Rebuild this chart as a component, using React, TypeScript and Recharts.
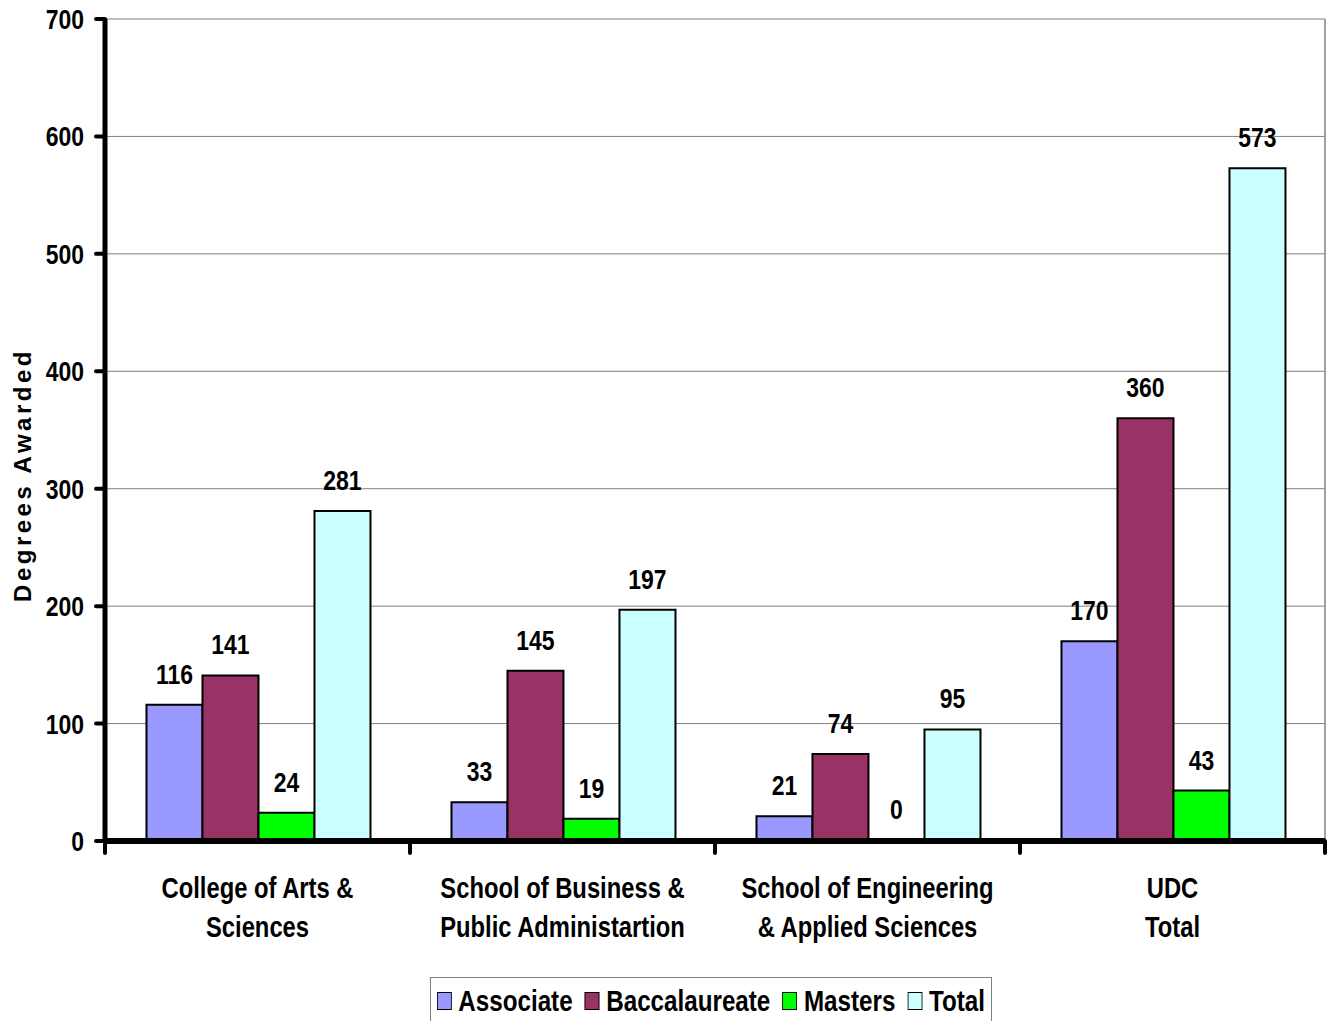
import {
  Bar,
  BarChart,
  CartesianGrid,
  LabelList,
  Legend,
  ReferenceLine,
  XAxis,
  YAxis,
} from 'recharts';

const categories = [
  'College of Arts &\nSciences',
  'School of Business &\nPublic Administartion',
  'School of Engineering\n& Applied Sciences',
  'UDC\nTotal',
];
const associate = [116, 33, 21, 170];
const baccalaureate = [141, 145, 74, 360];
const masters = [24, 19, 0, 43];
const total = [281, 197, 95, 573];
const yTicks = [0, 100, 200, 300, 400, 500, 600, 700];
const groupEdges = [0, 1, 2, 3, 4];

const data = categories.map((name, i) => ({
  name,
  associate: associate[i],
  baccalaureate: baccalaureate[i],
  masters: masters[i],
  total: total[i],
}));

// no Arial Narrow here, so squeeze Liberation Sans Bold horizontally
const FONT = '"Liberation Sans", Arial, sans-serif';
const NARROW = 0.82;

function NarrowText({ x, y, anchor = 'middle', size = 28, dy, children }: any) {
  return (
    <text
      transform={`translate(${x},${y}) scale(${NARROW},1)`}
      textAnchor={anchor}
      dy={dy}
      fill="#000"
      fontFamily={FONT}
      fontWeight="bold"
      fontSize={size}
    >
      {children}
    </text>
  );
}

function CategoryTick({ x, y, payload }: any) {
  const lines = String(payload.value).split('\n');
  return (
    <NarrowText x={x} y={y} size={29}>
      {lines.map((line, i) => (
        <tspan key={i} x={0} dy={i === 0 ? 56 : 39}>
          {line}
        </tspan>
      ))}
    </NarrowText>
  );
}

function NoLabel() {
  return <g />;
}

function ValueTick({ x, y, payload }: any) {
  return (
    <NarrowText x={x} y={y} anchor="end" dy="0.355em">
      {payload.value}
    </NarrowText>
  );
}

function BarValue({ x, y, width, value }: any) {
  return (
    <NarrowText x={Number(x) + Number(width) / 2} y={Number(y) - 21}>
      {value}
    </NarrowText>
  );
}

function YTitle({ viewBox }: any) {
  const cx = viewBox.x + 22;
  const cy = viewBox.y + viewBox.height / 2 + 45;
  return (
    <text
      transform={`translate(${cx},${cy}) rotate(-90)`}
      textAnchor="middle"
      dominantBaseline="central"
      fill="#000"
      fontFamily={FONT}
      fontWeight="bold"
      fontSize={24}
      letterSpacing={3.5}
    >
      Degrees Awarded
    </text>
  );
}

function LegendBox({ payload }: any) {
  return (
    <div
      style={{
        height: 54,
        boxSizing: 'border-box',
        border: '1px solid #808080',
        background: '#fff',
        paddingLeft: 6,
        paddingBottom: 6,
        display: 'flex',
        alignItems: 'center',
      }}
    >
      <div
        style={{
          display: 'flex',
          alignItems: 'center',
          whiteSpace: 'nowrap',
          transform: `scaleX(${NARROW})`,
          transformOrigin: 'left center',
          fontFamily: FONT,
          fontWeight: 'bold',
          fontSize: 29.5,
          color: '#000',
        }}
      >
        {(payload || []).map((item: any) => (
          <span key={item.value} style={{ display: 'flex', alignItems: 'center', marginRight: 15 }}>
            <span
              style={{
                display: 'inline-block',
                width: 16,
                height: 16,
                background: item.color,
                border: '1.5px solid #000',
                marginRight: 8,
              }}
            />
            {item.value}
          </span>
        ))}
      </div>
    </div>
  );
}

export default function App() {
  return (
    <div style={{ position: 'absolute', left: 0, top: 0 }}>
      <BarChart
        width={1333}
        height={1021}
        data={data}
        margin={{ top: 19, right: 8, bottom: 0, left: 0 }}
        barCategoryGap="13.6%"
        barGap={0}
      >
        <CartesianGrid vertical={false} stroke="#808080" strokeWidth={1} />
        {/* numeric id sorts first, so this one sits right on the plot edge;
            it only carries the axis line and the group-boundary ticks */}
        <XAxis
          xAxisId={0}
          dataKey="edge"
          type="number"
          domain={[0, 4]}
          ticks={groupEdges}
          interval={0}
          allowDataOverflow
          height={1}
          axisLine={{ stroke: '#000', strokeWidth: 6 }}
          tick={<NoLabel />}
          tickSize={12}
          tickLine={{ stroke: '#000', strokeWidth: 4, strokeLinecap: 'round' }}
        />
        <XAxis
          xAxisId="cat"
          dataKey="name"
          height={125}
          interval={0}
          axisLine={false}
          tickLine={false}
          tickSize={0}
          tickMargin={0}
          tick={<CategoryTick />}
        />
        <YAxis
          domain={[0, 700]}
          ticks={yTicks}
          interval={0}
          width={105}
          axisLine={{ stroke: '#000', strokeWidth: 5 }}
          tickLine={{ stroke: '#000', strokeWidth: 4, strokeLinecap: 'round' }}
          tickSize={9}
          tickMargin={12}
          tick={<ValueTick />}
          label={{ content: <YTitle /> }}
        />
        <ReferenceLine xAxisId={0} x={4} stroke="#808080" strokeWidth={1.5} ifOverflow="visible" />
        <Legend
          verticalAlign="bottom"
          content={<LegendBox />}
          wrapperStyle={{ left: 430, bottom: -10, width: 562 }}
        />
        <Bar xAxisId="cat" dataKey="associate" name="Associate" fill="#9999FF" stroke="#000" strokeWidth={2} isAnimationActive={false}>
          <LabelList dataKey="associate" content={<BarValue />} />
        </Bar>
        <Bar xAxisId="cat" dataKey="baccalaureate" name="Baccalaureate" fill="#993366" stroke="#000" strokeWidth={2} isAnimationActive={false}>
          <LabelList dataKey="baccalaureate" content={<BarValue />} />
        </Bar>
        <Bar xAxisId="cat" dataKey="masters" name="Masters" fill="#00FF00" stroke="#000" strokeWidth={2} minPointSize={1} isAnimationActive={false}>
          <LabelList dataKey="masters" content={<BarValue />} />
        </Bar>
        <Bar xAxisId="cat" dataKey="total" name="Total" fill="#CCFFFF" stroke="#000" strokeWidth={2} isAnimationActive={false}>
          <LabelList dataKey="total" content={<BarValue />} />
        </Bar>
      </BarChart>
    </div>
  );
}
